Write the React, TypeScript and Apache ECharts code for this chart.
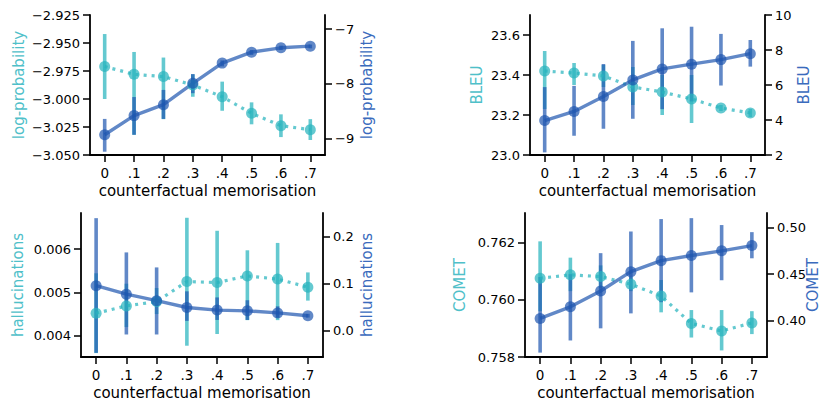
import React, { useEffect, useRef } from "react";
import * as echarts from "echarts";

const categories = ["0", ".1", ".2", ".3", ".4", ".5", ".6", ".7"];
const xAxisTitle = "counterfactual memorisation";

// Panel 1: log-probability
const lpCyanMean = [-2.971, -2.978, -2.98, -2.9875, -2.998, -3.0128, -3.0238, -3.0274];
const lpCyanLo = [-3.0, -3.032, -3.018, -2.998, -3.0105, -3.0226, -3.034, -3.0366];
const lpCyanHi = [-2.942, -2.958, -2.963, -2.978, -2.9845, -3.003, -3.0137, -3.018];
const lpBlueMean = [-8.93, -8.58, -8.38, -7.99, -7.62, -7.42, -7.34, -7.31];
const lpBlueLo = [-9.24, -8.93, -8.64, -8.17, -7.68, -7.47, -7.38, -7.35];
const lpBlueHi = [-8.64, -8.24, -8.11, -7.82, -7.57, -7.38, -7.3, -7.28];
const lpLeftTicks = [-3.05, -3.025, -3.0, -2.975, -2.95, -2.925];
const lpRightTicks = [-9, -8, -7];

// Panel 2: BLEU
const bleuCyanMean = [23.42, 23.41, 23.395, 23.34, 23.315, 23.28, 23.235, 23.21];
const bleuCyanLo = [23.23, 23.35, 23.34, 23.25, 23.2, 23.16, 23.22, 23.19];
const bleuCyanHi = [23.52, 23.46, 23.45, 23.44, 23.4, 23.4, 23.25, 23.23];
const bleuBlueMean = [3.97, 4.49, 5.34, 6.29, 6.92, 7.19, 7.45, 7.79];
const bleuBlueLo = [2.15, 3.1, 3.5, 4.07, 4.62, 5.06, 5.97, 7.05];
const bleuBlueHi = [5.88, 5.95, 7.2, 8.52, 9.24, 9.33, 8.92, 8.57];
const bleuLeftTicks = [23.0, 23.2, 23.4, 23.6];
const bleuRightTicks = [2, 4, 6, 8, 10];

// Panel 3: hallucinations
const halCyanMean = [0.004518, 0.004688, 0.004787, 0.00525, 0.005227, 0.00538, 0.005306, 0.00512];
const halCyanLo = [0.0036, 0.0042, 0.0045, 0.00377, 0.00404, 0.00436, 0.00436, 0.00481];
const halCyanHi = [0.00544, 0.0052, 0.0051, 0.00672, 0.00642, 0.00597, 0.00614, 0.00546];
const halBlueMean = [0.095, 0.077, 0.063, 0.0486, 0.043, 0.0414, 0.037, 0.031];
const halBlueLo = [-0.048, -0.009, -0.009, 0.02, 0.022, 0.022, 0.027, 0.027];
const halBlueHi = [0.239, 0.166, 0.134, 0.083, 0.07, 0.064, 0.051, 0.035];
const halLeftTicks = [0.004, 0.005, 0.006];
const halRightTicks = [0.0, 0.1, 0.2];

// Panel 4: COMET
const cometCyanMean = [0.76075, 0.76087, 0.76081, 0.76054, 0.76013, 0.75917, 0.75891, 0.75919];
const cometCyanLo = [0.7596, 0.7603, 0.7604, 0.7603, 0.75956, 0.75868, 0.75823, 0.7588];
const cometCyanHi = [0.76204, 0.76147, 0.7612, 0.7608, 0.76069, 0.75964, 0.75964, 0.7596];
const cometBlueMean = [0.4026, 0.415, 0.432, 0.4527, 0.4645, 0.47, 0.475, 0.4806];
const cometBlueLo = [0.366, 0.379, 0.392, 0.408, 0.42, 0.4305, 0.4435, 0.467];
const cometBlueHi = [0.447, 0.45, 0.4725, 0.4957, 0.509, 0.51, 0.5026, 0.495];
const cometLeftTicks = [0.758, 0.76, 0.762];
const cometRightTicks = [0.4, 0.45, 0.5];

const FONT = "DejaVu Sans";
const CYAN = "rgba(40,180,190,0.72)";
const BLUE = "rgba(30,86,175,0.7)";
const CYAN_TXT = "#4fc0c9";
const BLUE_TXT = "#3a6bbd";

const minus = (s: string) => s.replace("-", "\u2212");

type Panel = {
  grid: { left: number; top: number; width: number; height: number };
  name: string;
  leftRange: [number, number];
  rightRange: [number, number];
  leftTicks: number[];
  rightTicks: number[];
  leftFmt: (v: number) => string;
  rightFmt: (v: number) => string;
  leftGap: number;
  rightGap: number;
  rightNameAsAxis: boolean;
  cyan: [number[], number[], number[]];
  blue: [number[], number[], number[]];
};

const panels: Panel[] = [
  {
    grid: { left: 90, top: 15, width: 235, height: 140 },
    name: "log-probability",
    leftRange: [-3.05, -2.925],
    rightRange: [-9.3, -6.74],
    leftTicks: lpLeftTicks,
    rightTicks: lpRightTicks,
    leftFmt: (v) => minus(v.toFixed(3)),
    rightFmt: (v) => minus(String(v)),
    leftGap: 64,
    rightGap: 34,
    rightNameAsAxis: true,
    cyan: [lpCyanMean, lpCyanLo, lpCyanHi],
    blue: [lpBlueMean, lpBlueLo, lpBlueHi],
  },
  {
    grid: { left: 530, top: 15, width: 235, height: 140 },
    name: "BLEU",
    leftRange: [23.0, 23.7],
    rightRange: [2, 10],
    leftTicks: bleuLeftTicks,
    rightTicks: bleuRightTicks,
    leftFmt: (v) => v.toFixed(1),
    rightFmt: (v) => String(v),
    leftGap: 46,
    rightGap: 31,
    rightNameAsAxis: true,
    cyan: [bleuCyanMean, bleuCyanLo, bleuCyanHi],
    blue: [bleuBlueMean, bleuBlueLo, bleuBlueHi],
  },
  {
    grid: { left: 81, top: 213, width: 242, height: 144 },
    name: "hallucinations",
    leftRange: [0.00351, 0.00683],
    rightRange: [-0.057, 0.25],
    leftTicks: halLeftTicks,
    rightTicks: halRightTicks,
    leftFmt: (v) => v.toFixed(3),
    rightFmt: (v) => v.toFixed(1),
    leftGap: 56,
    rightGap: 36,
    rightNameAsAxis: true,
    cyan: [halCyanMean, halCyanLo, halCyanHi],
    blue: [halBlueMean, halBlueLo, halBlueHi],
  },
  {
    grid: { left: 525, top: 213, width: 242, height: 144 },
    name: "COMET",
    leftRange: [0.758, 0.76303],
    rightRange: [0.3613, 0.5155],
    leftTicks: cometLeftTicks,
    rightTicks: cometRightTicks,
    leftFmt: (v) => v.toFixed(3),
    rightFmt: (v) => v.toFixed(2),
    leftGap: 58,
    rightGap: 46,
    rightNameAsAxis: false,
    cyan: [cometCyanMean, cometCyanLo, cometCyanHi],
    blue: [cometBlueMean, cometBlueLo, cometBlueHi],
  },
];

const axisLine = { show: true, onZero: false, lineStyle: { color: "#000", width: 1.8 } };
const axisTick = { show: true, length: 7, lineStyle: { color: "#000", width: 1.5 } };

function errorSeries(xi: number, yi: number, lo: number[], hi: number[], color: string) {
  return {
    type: "custom",
    xAxisIndex: xi,
    yAxisIndex: yi,
    data: lo.map((l, k) => [k, l, hi[k]]),
    renderItem: (_p: any, api: any) => {
      const x = api.value(0);
      const a = api.coord([x, api.value(1)]);
      const b = api.coord([x, api.value(2)]);
      return {
        type: "line",
        shape: { x1: a[0], y1: a[1], x2: b[0], y2: b[1] },
        style: { stroke: color, lineWidth: 3.6 },
      };
    },
    silent: true,
  };
}

function buildOption() {
  const grid: any[] = [];
  const xAxis: any[] = [];
  const yAxis: any[] = [];
  const series: any[] = [];
  const graphic: any[] = [];
  panels.forEach((p, i) => {
    grid.push({ ...p.grid, containLabel: false });
    xAxis.push({
      type: "category",
      gridIndex: i,
      data: categories,
      boundaryGap: true,
      axisLine,
      axisTick: { ...axisTick, alignWithLabel: true },
      axisLabel: { fontFamily: FONT, fontSize: 13.5, color: "#000", margin: 11 },
      splitLine: { show: false },
      name: xAxisTitle,
      nameLocation: "middle",
      nameGap: 28,
      nameTextStyle: { fontFamily: FONT, fontSize: 15, color: "#000" },
    });
    yAxis.push({
      type: "value",
      gridIndex: i,
      position: "left",
      min: p.leftRange[0],
      max: p.leftRange[1],
      axisLine,
      axisTick: { ...axisTick, customValues: p.leftTicks },
      axisLabel: {
        customValues: p.leftTicks,
        formatter: p.leftFmt,
        fontFamily: FONT,
        fontSize: 13,
        color: "#000",
        margin: 10,
      },
      splitLine: { show: false },
      name: p.name,
      nameLocation: "middle",
      nameRotate: 90,
      nameGap: p.leftGap,
      nameTextStyle: { fontFamily: FONT, fontSize: 15, color: CYAN_TXT },
    });
    yAxis.push({
      type: "value",
      gridIndex: i,
      position: "right",
      min: p.rightRange[0],
      max: p.rightRange[1],
      axisLine,
      axisTick: { ...axisTick, customValues: p.rightTicks },
      axisLabel: {
        customValues: p.rightTicks,
        formatter: p.rightFmt,
        fontFamily: FONT,
        fontSize: 13,
        color: "#000",
        margin: 10,
      },
      splitLine: { show: false },
      name: p.rightNameAsAxis ? p.name : "",
      nameLocation: "middle",
      nameRotate: 90,
      nameGap: p.rightGap,
      nameTextStyle: { fontFamily: FONT, fontSize: 15, color: BLUE_TXT },
    });
    if (!p.rightNameAsAxis) {
      graphic.push({
        type: "text",
        x: p.grid.left + p.grid.width + p.rightGap,
        y: p.grid.top + p.grid.height / 2,
        rotation: Math.PI / 2,
        style: {
          text: p.name,
          fontFamily: FONT,
          fontSize: 15,
          fill: BLUE_TXT,
          align: "center",
          verticalAlign: "middle",
        },
        silent: true,
      });
    }
    const yl = 2 * i;
    const yr = 2 * i + 1;
    series.push(errorSeries(i, yl, p.cyan[1], p.cyan[2], CYAN));
    series.push({
      type: "line",
      xAxisIndex: i,
      yAxisIndex: yl,
      data: p.cyan[0],
      symbol: "circle",
      symbolSize: 11,
      itemStyle: { color: CYAN },
      lineStyle: { color: CYAN, width: 3.2, type: [3, 5] },
      silent: true,
    });
    series.push(errorSeries(i, yr, p.blue[1], p.blue[2], BLUE));
    series.push({
      type: "line",
      xAxisIndex: i,
      yAxisIndex: yr,
      data: p.blue[0],
      symbol: "circle",
      symbolSize: 11,
      itemStyle: { color: BLUE },
      lineStyle: { color: BLUE, width: 3.4 },
      silent: true,
    });
  });
  return { animation: false, backgroundColor: "#fff", grid, xAxis, yAxis, series, graphic };
}

export default function App() {
  const ref = useRef<HTMLDivElement>(null);
  useEffect(() => {
    if (!ref.current) return;
    const chart = echarts.init(ref.current, undefined, { renderer: "svg" });
    chart.setOption(buildOption() as any);
    return () => chart.dispose();
  }, []);
  return (
    <div
      ref={ref}
      style={{ position: "fixed", left: 0, top: 0, width: 823, height: 401, background: "#fff" }}
    />
  );
}
